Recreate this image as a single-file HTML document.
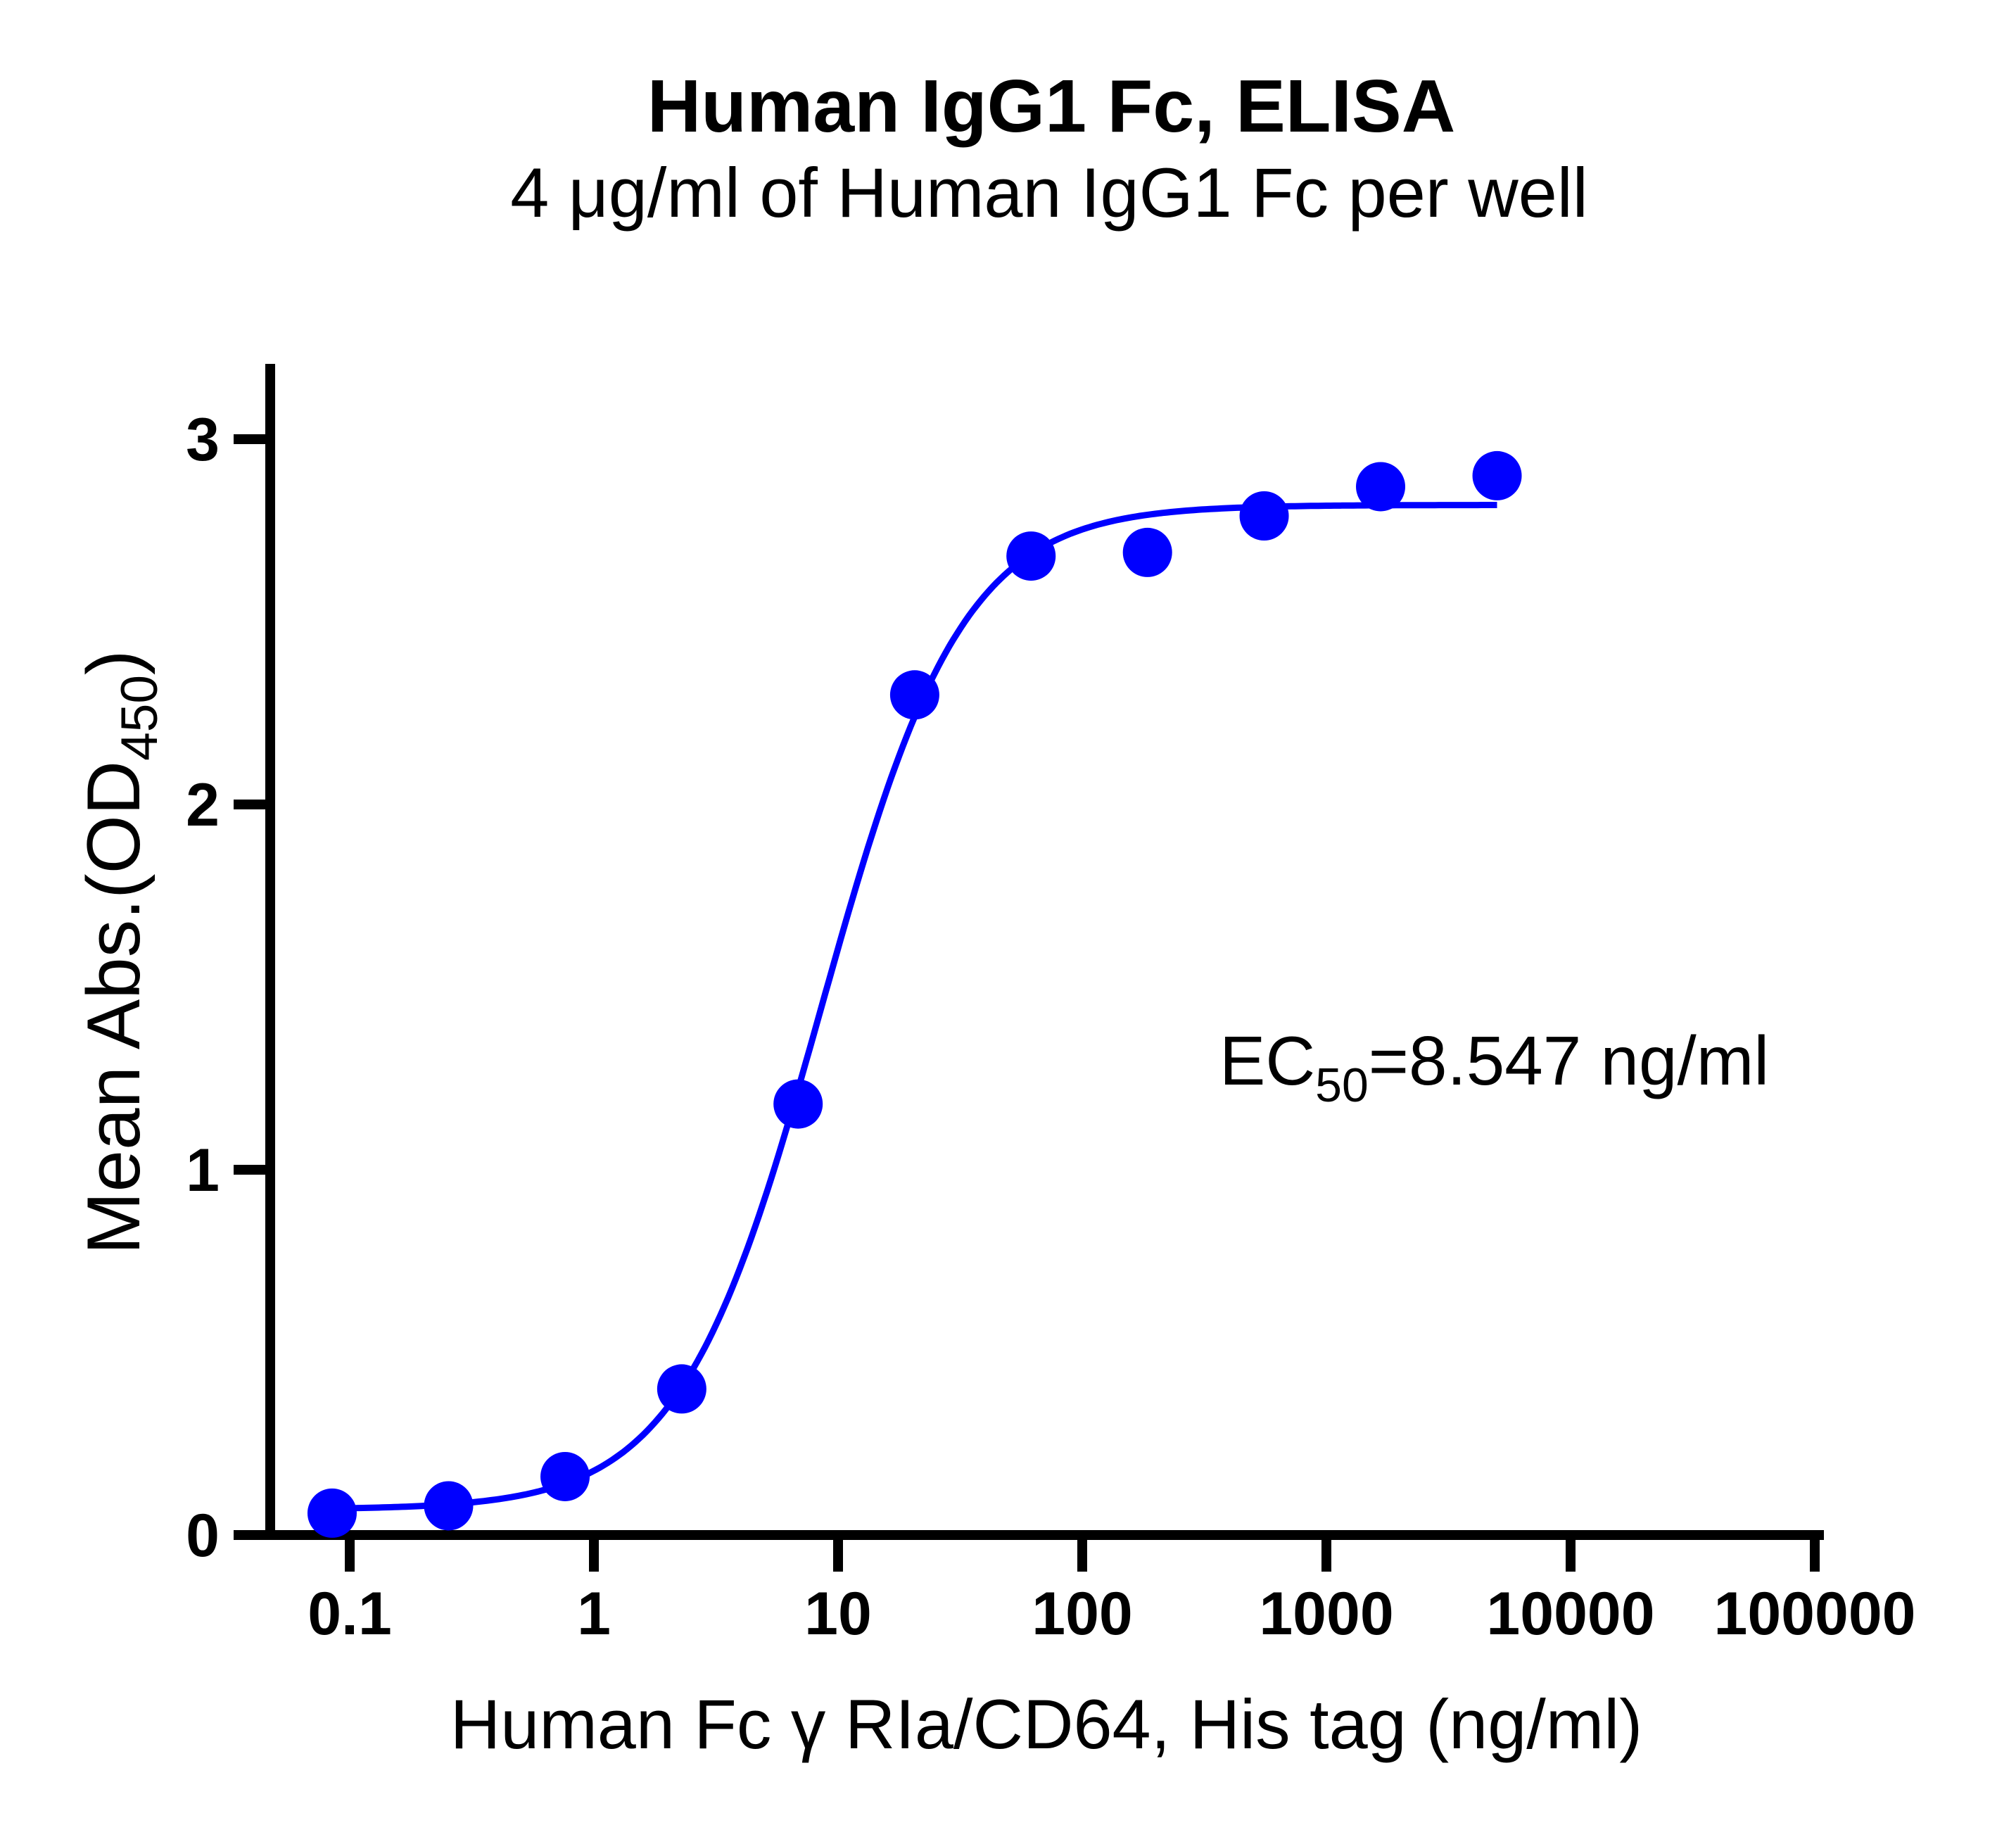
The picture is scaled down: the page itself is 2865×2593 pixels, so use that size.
<!DOCTYPE html>
<html><head><meta charset="utf-8"><style>
html,body{margin:0;padding:0;background:#fff}
svg{display:block}
</style></head><body>
<svg id="chart" width="2865" height="2593" viewBox="0 0 2865 2593" xmlns="http://www.w3.org/2000/svg" font-family="Liberation Sans, Arial, sans-serif">
<text x="1494" y="187" font-size="106" font-weight="bold" text-anchor="middle">Human IgG1 Fc, ELISA</text>
<text x="1491" y="308" font-size="99" text-anchor="middle">4 μg/ml of Human IgG1 Fc per well</text>
<g id="axes"></g>
<g id="marks"></g>
<text x="1487" y="2484" font-size="99" text-anchor="middle">Human Fc γ RIa/CD64, His tag (ng/ml)</text>
<text transform="translate(198,1353) rotate(-90)" font-size="107" text-anchor="middle">Mean Abs.(OD<tspan font-size="73" dy="25">450</tspan><tspan dy="-25">)</tspan></text>
<text x="1733" y="1541" font-size="98">EC<tspan font-size="68" dy="24">50</tspan><tspan dy="-24">=8.547 ng/ml</tspan></text>
</svg>
<script>
const xConc = [0.0847, 0.254, 0.762, 2.29, 6.86, 20.6, 61.7, 185, 556, 1667, 5000];
const yAbs = [0.06, 0.08, 0.16, 0.40, 1.18, 2.30, 2.68, 2.69, 2.79, 2.87, 2.90];
const xTicks = [0.1, 1, 10, 100, 1000, 10000, 100000];
const xTickLabels = ["0.1", "1", "10", "100", "1000", "10000", "100000"];
const yTicks = [0, 1, 2, 3];
const fitBottom = 0.07, fitTop = 2.82, fitEC50 = 8.547, fitHill = 1.5;

const NS = "http://www.w3.org/2000/svg";
const X0 = 497, DEC = 347, Y0 = 2181, YU = 519;
const xs = v => X0 + Math.log10(v / 0.1) * DEC;
const ys = v => Y0 - v * YU;
function mk(tag, attrs, parent) {
  const e = document.createElementNS(NS, tag);
  for (const k in attrs) e.setAttribute(k, attrs[k]);
  parent.appendChild(e);
  return e;
}
const axes = document.getElementById('axes');
const marks = document.getElementById('marks');
let el = mk('line', {x1: 384, y1: 517, x2: 384, y2: Y0 + 7, stroke: '#000', 'stroke-width': 14}, axes);


el = mk('line', {x1: 377, y1: Y0, x2: 2592, y2: Y0, stroke: '#000', 'stroke-width': 14}, axes);


xTicks.forEach((t, i) => {
  const x = xs(t);
  let tk = mk('line', {x1: x, y1: Y0, x2: x, y2: Y0 + 52, stroke: '#000', 'stroke-width': 14}, axes);
  
  
  let lb = mk('text', {x: x, y: 2322, 'font-size': 86, 'font-weight': 'bold', 'text-anchor': 'middle'}, axes);
  lb.textContent = xTickLabels[i];
  
  
});
yTicks.forEach(t => {
  const y = ys(t);
  let tk = mk('line', {x1: 332, y1: y, x2: 384, y2: y, stroke: '#000', 'stroke-width': 14}, axes);
  
  
  let lb = mk('text', {x: 312, y: y + 30, 'font-size': 86, 'font-weight': 'bold', 'text-anchor': 'end'}, axes);
  lb.textContent = String(t);
  
  
});
const fit = c => fitBottom + (fitTop - fitBottom) / (1 + Math.pow(fitEC50 / c, fitHill));
let d = '';
const lo = Math.log10(xConc[0]), hi = Math.log10(xConc[xConc.length - 1]);
for (let i = 0; i <= 300; i++) {
  const c = Math.pow(10, lo + (hi - lo) * i / 300);
  d += (i ? 'L' : 'M') + xs(c).toFixed(1) + ',' + ys(fit(c)).toFixed(1);
}
const curve = mk('path', {d: d, fill: 'none', stroke: '#0000ff', 'stroke-width': 9}, marks);


xConc.forEach((c, i) => {
  const p = mk('circle', {cx: xs(c), cy: ys(yAbs[i]), r: 35, fill: '#0000ff'}, marks);
  
  
});
</script>
</body></html>
